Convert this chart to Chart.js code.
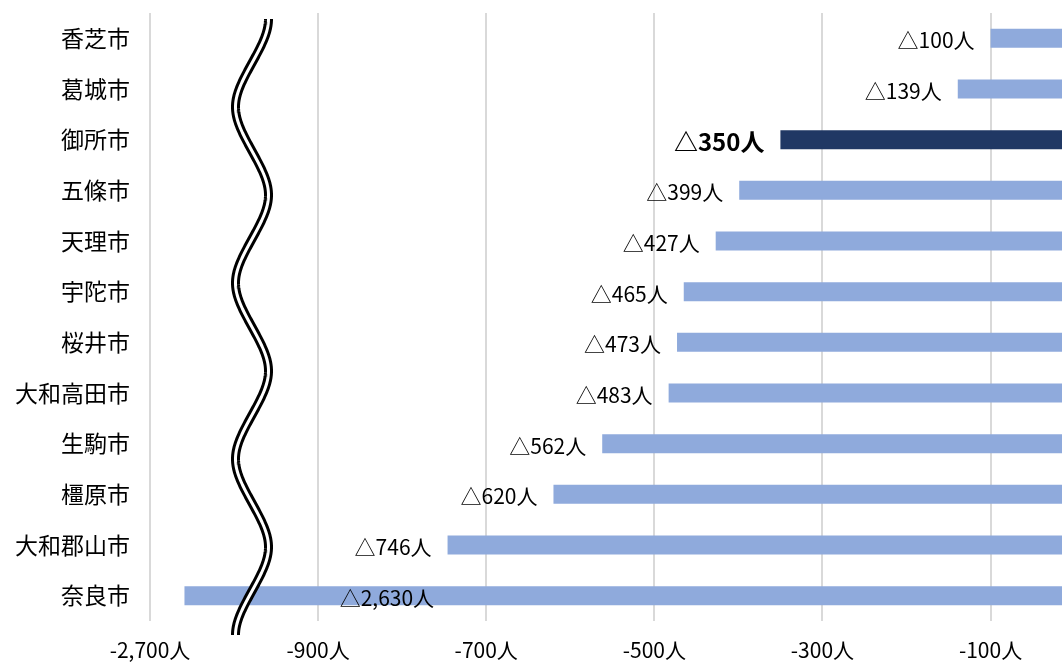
<!DOCTYPE html>
<html lang="ja">
<head>
<meta charset="utf-8">
<script src="https://cdn.jsdelivr.net/npm/chart.js@4"></script>
<style>
    html, body { margin: 0; padding: 0; background: #fff; overflow: hidden; }
    #grafico { display: block; }
</style>
</head>
<body>
<canvas id="grafico" width="1062" height="664"></canvas>
<script>
const cidades = ['香芝市', '葛城市', '御所市', '五條市', '天理市', '宇陀市', '桜井市', '大和高田市', '生駒市', '橿原市', '大和郡山市', '奈良市'];
const variacao = [-100, -139, -350, -399, -427, -465, -473, -483, -562, -620, -746, -2630];
const destaque = '御所市';

const tickValores = [-1100, -900, -700, -500, -300, -100];
const tickRotulos = ['-2,700人', '-900人', '-700人', '-500人', '-300人', '-100人'];

// broken axis: anything below the break is pulled in by this amount
const quebraEixo = -1000;
const deslocQuebra = 1571;
const rotuloQuebraEm = -762;

const FONTE = "'Noto Sans CJK JP', 'Noto Sans', sans-serif";

const valoresPlot = variacao.map(v => v < quebraEixo ? v + deslocQuebra : v);
const cores = cidades.map(c => c === destaque ? '#203864' : '#8faadc');

function formatar(v) {
    return '△' + Math.abs(v).toLocaleString('en-US') + '人';
}

const rotulosPlugin = {
    id: 'rotulos',
    afterDatasetsDraw(chart) {
        const ctx = chart.ctx;
        const area = chart.chartArea;

        // wavy double line marking the axis break
        const cx = area.left + 102;
        const amp = 16.5;
        const periodo = 176;
        const k = 0.6;
        const y0 = area.top + 6;
        const y1 = area.bottom + 14;
        const yRef = area.top + 182;
        ctx.save();
        ctx.beginPath();
        for (let y = y0; y <= y1; y += 1) {
            const t = 2 * Math.PI * (y - yRef) / periodo;
            const x = cx + amp * Math.asin(k * Math.cos(t)) / Math.asin(k);
            if (y === y0) ctx.moveTo(x, y); else ctx.lineTo(x, y);
        }
        ctx.lineCap = 'butt';
        ctx.lineJoin = 'round';
        ctx.strokeStyle = '#000';
        ctx.lineWidth = 9;
        ctx.stroke();
        ctx.strokeStyle = '#fff';
        ctx.lineWidth = 3;
        ctx.stroke();
        ctx.restore();

        const meta = chart.getDatasetMeta(0);
        const xs = chart.scales.x;
        ctx.save();
        ctx.fillStyle = '#000';
        ctx.textAlign = 'right';
        ctx.textBaseline = 'middle';
        meta.data.forEach((bar, i) => {
            const negrito = cidades[i] === destaque;
            ctx.font = (negrito ? 'bold 24px ' : '21px ') + FONTE;
            let x = bar.x - 16;
            if (variacao[i] < quebraEixo) x = xs.getPixelForValue(rotuloQuebraEm);
            ctx.fillText(formatar(variacao[i]), x, bar.y + 2);
        });
        ctx.restore();
    }
};

const ctx = document.getElementById('grafico').getContext('2d');
new Chart(ctx, {
    type: 'bar',
    data: {
        labels: cidades,
        datasets: [{
            data: valoresPlot,
            backgroundColor: cores,
            borderWidth: 0,
            categoryPercentage: 1,
            barPercentage: 0.375
        }]
    },
    options: {
        indexAxis: 'y',
        responsive: false,
        animation: false,
        layout: { padding: { top: 13, right: 0, left: 0, bottom: 0 } },
        plugins: {
            legend: { display: false },
            tooltip: { enabled: false }
        },
        scales: {
            x: {
                min: -1100,
                max: -15,
                afterBuildTicks: s => { s.ticks = tickValores.map(v => ({ value: v })); },
                afterFit: s => { s.height = 43; s.paddingLeft = 0; s.paddingRight = 0; },
                ticks: {
                    callback: v => tickRotulos[tickValores.indexOf(v)],
                    font: { family: FONTE, size: 21 },
                    color: '#000',
                    padding: 16,
                    maxRotation: 0,
                    autoSkip: false
                },
                grid: { color: '#d9d9d9', lineWidth: 2, drawTicks: false },
                border: { display: false }
            },
            y: {
                afterFit: s => { s.width = 150; s.paddingTop = 0; s.paddingBottom = 0; },
                ticks: {
                    font: { family: FONTE, size: 23 },
                    color: '#000',
                    padding: 12
                },
                grid: { display: false },
                border: { display: false }
            }
        }
    },
    plugins: [rotulosPlugin]
});
</script>
</body>
</html>
